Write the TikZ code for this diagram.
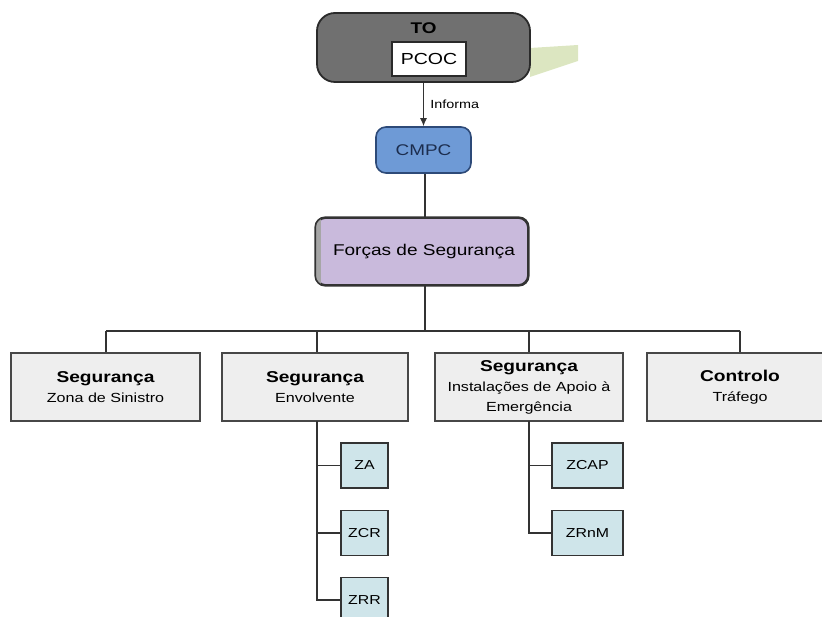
\documentclass[tikz,border=0pt]{standalone}
\usepackage{fontspec}
\setmainfont{Liberation Sans}[FakeStretch=1.22]
\usetikzlibrary{calc,arrows.meta}
\definecolor{toFill}{HTML}{707070}
\definecolor{toEdge}{HTML}{2A2A2A}
\definecolor{cmFill}{HTML}{6E9AD6}
\definecolor{cmEdge}{HTML}{2D4A78}
\definecolor{cmText}{HTML}{1C2D4E}
\definecolor{fsFill}{HTML}{C9BADC}
\definecolor{boxFill}{HTML}{EEEEEE}
\definecolor{subFill}{HTML}{CFE5EA}
\definecolor{lineCol}{HTML}{333333}
\definecolor{leaf}{HTML}{C9D9A0}
\newcommand\unittitle{\bfseries\fontsize{15.7}{20}\selectfont}
\begin{document}
\begin{tikzpicture}[x=1pt,y=-1pt,
  wire/.style={draw=lineCol,line width=1.2pt},
  unitbox/.style={draw=lineCol!90,line width=1.4pt,fill=boxFill,inner sep=0pt,
    minimum height=68pt,align=center,
    font=\fontsize{13.2}{20}\selectfont},
  zonebox/.style={draw=lineCol,line width=1.3pt,fill=subFill,inner sep=0pt,
    minimum height=45pt,font=\fontsize{13}{15}\selectfont}]
\useasboundingbox (0,0) rectangle (822,617);
\clip (0,0) rectangle (822,617);

% faint green wedge beside the top block
\fill[leaf,opacity=0.65] (530,48) -- (578,45) -- (578,61) -- (530,77) -- cycle;

% top block: TO with PCOC inside
\node[draw=toEdge,line width=1.8pt,fill=toFill,rounded corners=18pt,
  minimum width=213pt,minimum height=69pt,inner sep=0pt] (to) at (423.5,47.5) {};
\node[font=\bfseries\fontsize{15.5}{18}\selectfont] (toname) at (423.5,28) {TO};
\node[draw=toEdge,line width=1.2pt,fill=white,minimum width=74pt,minimum height=34pt,
  inner sep=0pt,font=\fontsize{16}{18}\selectfont] (pcoc) at (429,59) {PCOC};

% CMPC
\node[draw=cmEdge,line width=1.6pt,fill=cmFill,rounded corners=10pt,
  minimum width=95pt,minimum height=46pt,inner sep=0pt,text=cmText,
  font=\fontsize{15.5}{18}\selectfont] (cmpc) at (423.5,150) {CMPC};

% Forças de Segurança
\node[draw=lineCol,line width=1.6pt,fill=fsFill,rounded corners=10pt,
  minimum width=212pt,minimum height=67pt,inner sep=0pt] (fs) at (422,251.5) {};
\begin{scope}
  \clip[rounded corners=10pt] (fs.north west) rectangle (fs.south east);
  \fill[gray!70] (fs.north west) rectangle ($(fs.south west)+(6,0)$);
\end{scope}
\draw[lineCol,line width=1.6pt,rounded corners=10pt] (fs.north west) rectangle (fs.south east);
\node[font=\fontsize{15.6}{18}\selectfont] (fstext) at (424,251.5) {Forças de Segurança};

% arrow TO -> CMPC
\draw[wire,-{Latex[length=8pt,width=7pt]}] (to.south) -- (to.south |- cmpc.north)
  node[midway,right=3pt,font=\fontsize{11.8}{14}\selectfont] (inf) {Informa};
\coordinate (spine) at (425,0);
\draw[wire] (cmpc.south -| spine) -- (fs.north -| spine);

% four units
\node[unitbox,minimum width=189pt] (u1) at (105.5,387)
  {{\unittitle Segurança}\\Zona de Sinistro};
\node[unitbox,minimum width=186pt] (u2) at (315,387)
  {{\unittitle Segurança}\\Envolvente};
\node[unitbox,minimum width=188pt] (u3) at (529,387)
  {{\unittitle Segurança}\\Instalações de Apoio à\\Emergência};
\node[unitbox,minimum width=186pt] (u4) at (740,387)
  {{\unittitle Controlo}\\Tráfego};

% distribution bus
\coordinate (bus) at (425,331);
\coordinate (busL) at (106,331);
\coordinate (busR) at (740,331);
\draw[wire] (fs.south -| spine) -- (bus);
\draw[wire] (busL) -- (busR);
\draw[wire] (busL) -- (u1.north -| busL);
\draw[wire] (317,331) -- (u2.north -| 317,0);
\draw[wire] (u3.north |- bus) -- (u3.north);
\draw[wire] (busR) -- (u4.north);

% zones under Segurança Envolvente
\node[zonebox,minimum width=47pt] (za) at (364.5,465.5) {ZA};
\node[zonebox,minimum width=47pt] (zcr) at (364.5,533) {ZCR};
\node[zonebox,minimum width=47pt] (zrr) at (364.5,600) {ZRR};
\coordinate (e0) at (317,421);
\draw[wire] (e0) |- (zrr.west);
\draw[wire] (za.west -| e0) -- (za.west);
\draw[wire] (zcr.west -| e0) -- (zcr.west);

% zones under Segurança Instalações de Apoio à Emergência
\node[zonebox,minimum width=71pt] (zcap) at (587.5,465.5) {ZCAP};
\node[zonebox,minimum width=71pt] (zrnm) at (587.5,533) {ZRnM};
\coordinate (i0) at (529,421);
\draw[wire] (i0) |- (zrnm.west);
\draw[wire] (zcap.west -| i0) -- (zcap.west);
\end{tikzpicture}
\end{document}
